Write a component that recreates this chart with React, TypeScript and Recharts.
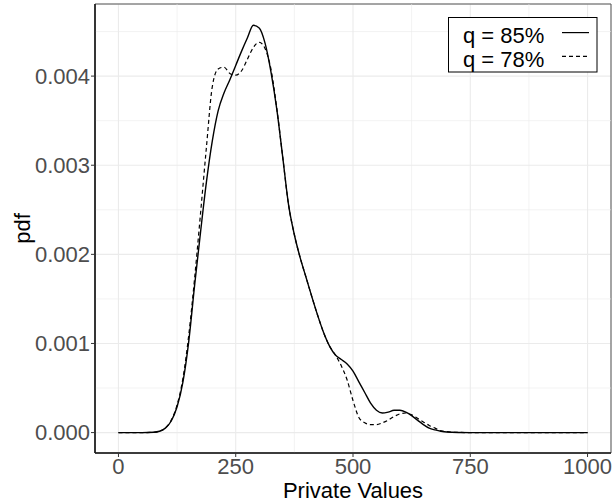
import React from "react";
import {
  LineChart,
  Line,
  XAxis,
  YAxis,
  CartesianGrid,
  ReferenceLine,
  ReferenceArea,
  Legend,
} from "recharts";

// private values (x grid shared by both densities)
const privateValues = [
  0, 25, 50, 75, 87.5, 100, 112.5, 125, 137.5, 150, 162.5, 175, 187.5, 200,
  212.5, 225, 237.5, 250, 262.5, 275, 287.5, 300, 312.5, 325, 337.5, 350, 362.5,
  375, 387.5, 400, 412.5, 425, 437.5, 450, 462.5, 475, 487.5, 500, 512.5, 525,
  537.5, 550, 562.5, 575, 587.5, 600, 612.5, 625, 637.5, 650, 662.5, 675, 687.5,
  700, 725, 750, 800, 850, 900, 950, 1000,
];

const pdfQ85 = [
  0, 0, 0, 0.000004, 0.000015, 0.00005, 0.00013, 0.00029, 0.00057, 0.00103,
  0.00166, 0.00225, 0.00281, 0.00327, 0.00361, 0.00381, 0.00396, 0.00412,
  0.00428, 0.00443, 0.00457, 0.00454, 0.00437, 0.00405, 0.00363, 0.0031,
  0.00256, 0.00222, 0.00196, 0.00174, 0.00152, 0.00131, 0.00112, 0.00097,
  0.00087, 0.00082, 0.00077, 0.00069, 0.00057, 0.00045, 0.00033, 0.00025,
  0.00022, 0.00023, 0.00025, 0.00025, 0.00023, 0.00019, 0.00014, 0.00009,
  0.00005, 0.00003, 0.000015, 0.000006, 0.000001, 0, 0, 0, 0, 0, 0,
];

const pdfQ78 = [
  0, 0, 0, 0.000004, 0.000015, 0.00005, 0.00014, 0.00031, 0.00061, 0.0011,
  0.00174, 0.00246, 0.0032, 0.00388, 0.00408, 0.0041, 0.00403, 0.00401,
  0.00406, 0.00419, 0.00432, 0.00438, 0.00431, 0.00408, 0.00364, 0.0031,
  0.00256, 0.00222, 0.00196, 0.00174, 0.00152, 0.00131, 0.00112, 0.00097,
  0.00087, 0.00075, 0.00059, 0.00036, 0.00017, 0.00011, 0.00009, 0.00009,
  0.00011, 0.00014, 0.00018, 0.00021, 0.00022, 0.0002, 0.00016, 0.00012,
  0.00008, 0.00005, 0.00002, 0.00001, 0.000002, 0, 0, 0, 0, 0, 0,
];

const seriesNames = ["q = 85%", "q = 78%"];
const seriesDash = [undefined, "4 3"];

const xTicks = [0, 250, 500, 750, 1000];
const xMinor = [125, 375, 625, 875];
const yTicks = [0, 0.001, 0.002, 0.003, 0.004];
const yMinor = [0.0005, 0.0015, 0.0025, 0.0035, 0.0045];

const xDomain = [-50, 1050];
const yDomain = [-0.000229, 0.004809];

const data = privateValues.map((v, i) => ({
  value: v,
  q85: pdfQ85[i],
  q78: pdfQ78[i],
}));

const font = "'Liberation Sans', Arial, Helvetica, sans-serif";

const YTitle = (props: any) => {
  const vb = props.viewBox || { x: 0, y: 4, width: 95, height: 449 };
  const x = vb.x + 30;
  const y = vb.y + vb.height / 2;
  return (
    <text
      x={x}
      y={y}
      transform={`rotate(-90, ${x}, ${y})`}
      textAnchor="middle"
      fontSize={22}
      fontFamily={font}
      fill="#000"
    >
      pdf
    </text>
  );
};

// legend drawn in series order (Recharts may sort the payload)
const renderLegend = () => (
  <svg width={150} height={56} style={{ display: "block" }}>
    <rect x={0.5} y={0.5} width={148.5} height={54.5} fill="#fff" stroke="#000" strokeWidth={1} />
    {seriesNames.map((name, i) => (
      <g key={name}>
        <text x={15} y={25.6 + i * 24.3} fontSize={22} fontFamily={font} fill="#000">
          {name}
        </text>
        <line
          x1={114}
          x2={141}
          y1={15.6 + i * 23.7}
          y2={15.6 + i * 23.7}
          stroke="#000"
          strokeWidth={1.2}
          strokeDasharray={seriesDash[i]}
        />
      </g>
    ))}
  </svg>
);

export default function App() {
  return (
    <div style={{ position: "absolute", left: 0, top: 0, background: "#fff" }}>
      <LineChart
        width={615}
        height={504}
        data={data}
        margin={{ top: 4, right: 4, left: 0, bottom: 0 }}
      >
        <CartesianGrid stroke="#ebebeb" strokeWidth={1.1} />
        {xMinor.map((v) => (
          <ReferenceLine key={"x" + v} x={v} stroke="#ebebeb" strokeWidth={0.6} />
        ))}
        {yMinor.map((v) => (
          <ReferenceLine key={"y" + v} y={v} stroke="#ebebeb" strokeWidth={0.6} />
        ))}
        <ReferenceArea
          x1={xDomain[0]}
          x2={xDomain[1]}
          y1={yDomain[0]}
          y2={yDomain[1]}
          fill="none"
          fillOpacity={0}
          stroke="#555"
          strokeWidth={1}
        />
        <XAxis
          dataKey="value"
          type="number"
          domain={xDomain}
          ticks={xTicks}
          allowDataOverflow
          height={51}
          tickSize={4}
          tickMargin={1}
          axisLine={{ stroke: "#1a1a1a", strokeWidth: 1.6 }}
          tickLine={{ stroke: "#333", strokeWidth: 1 }}
          tick={{ fontSize: 22, fontFamily: font, fill: "#4d4d4d" }}
          label={{
            value: "Private Values",
            position: "insideBottom",
            offset: 6,
            fontSize: 22,
            fontFamily: font,
            fill: "#000",
          }}
        />
        <YAxis
          type="number"
          domain={yDomain}
          ticks={yTicks}
          allowDataOverflow
          width={95}
          tickSize={4}
          tickMargin={1}
          axisLine={{ stroke: "#1a1a1a", strokeWidth: 1.6 }}
          tickLine={{ stroke: "#333", strokeWidth: 1 }}
          tick={{ fontSize: 22, fontFamily: font, fill: "#4d4d4d" }}
          tickFormatter={(v: number) => v.toFixed(3)}
          label={<YTitle />}
        />
        <Legend
          layout="vertical"
          align="center"
          verticalAlign="middle"
          content={renderLegend}
          wrapperStyle={{ left: 448, top: 17, width: 150, height: 56 }}
        />
        <Line
          name={seriesNames[0]}
          dataKey="q85"
          type="monotone"
          stroke="#000"
          strokeWidth={1.4}
          dot={false}
          isAnimationActive={false}
        />
        <Line
          name={seriesNames[1]}
          dataKey="q78"
          type="monotone"
          stroke="#000"
          strokeWidth={1.2}
          strokeDasharray={seriesDash[1]}
          dot={false}
          isAnimationActive={false}
        />
      </LineChart>
    </div>
  );
}
